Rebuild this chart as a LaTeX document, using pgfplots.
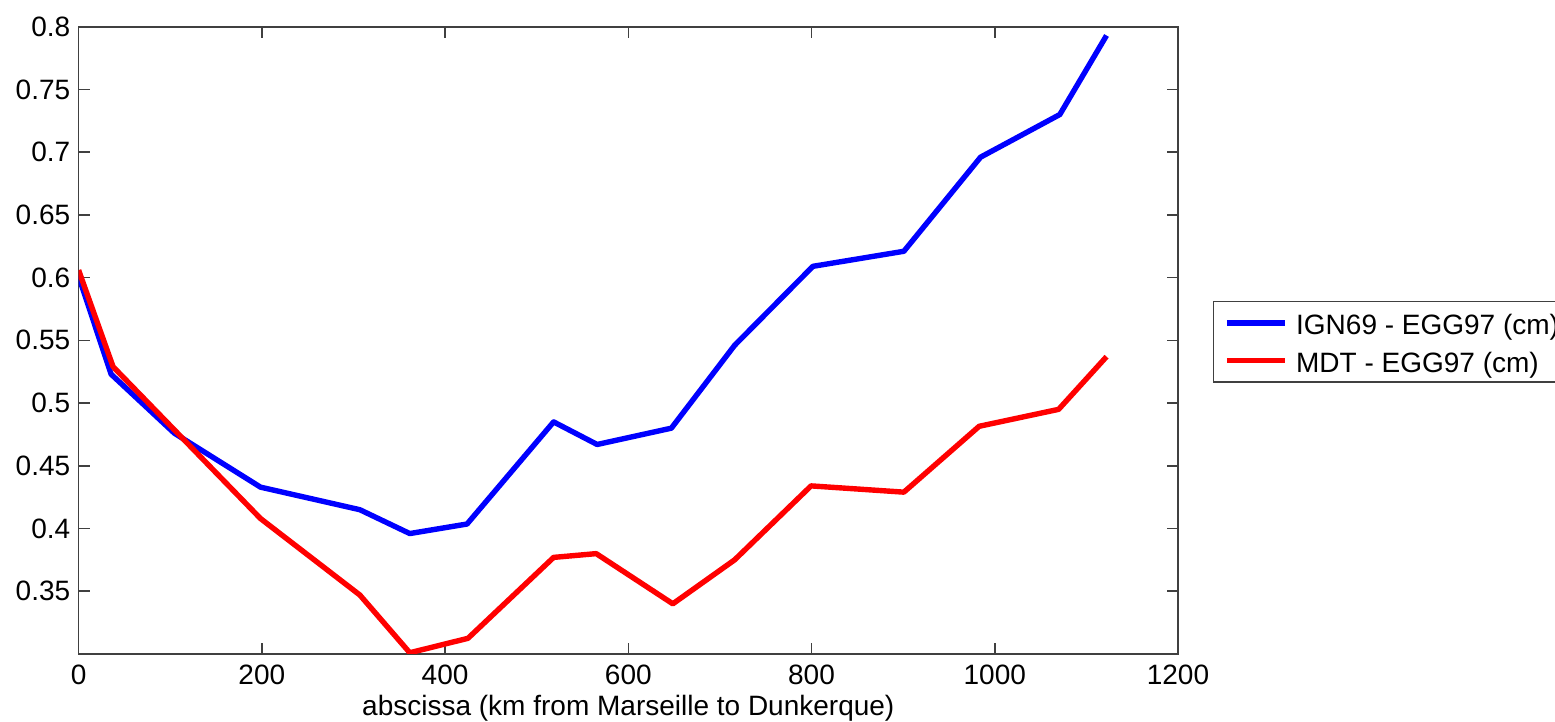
\documentclass[border=0pt]{standalone}
\usepackage{fontspec}
\setmainfont{Liberation Sans}
\usepackage{pgfplots}
\pgfplotsset{compat=1.18}
\begin{document}
\fontsize{14pt}{16pt}\selectfont
\begin{tikzpicture}
\begin{axis}[
  scale only axis, width=549.7pt, height=313.65pt,
  xmin=0, xmax=1200, ymin=0.3, ymax=0.8,
  xtick={0,200,400,600,800,1000,1200},
  xticklabels={0,200,400,600,800,1000,1200},
  ytick={0.35,0.4,0.45,0.5,0.55,0.6,0.65,0.7,0.75,0.8},
  yticklabels={0.35,0.4,0.45,0.5,0.55,0.6,0.65,0.7,0.75,0.8},
  tick align=inside, xtick pos=both, ytick pos=both,
  major tick length=5.7pt,
  axis line style={black!75, line width=0.8pt},
  every tick/.style={black!75, line width=0.8pt},
  ticklabel style={font=\fontsize{14pt}{16pt}\selectfont, inner sep=0pt},
  xticklabel shift=5.5pt, yticklabel shift=4pt,
  xlabel={abscissa (km from Marseille to Dunkerque)},
  xlabel style={at={(axis description cs:0.5,0)}, anchor=base, yshift=-31pt, inner sep=0pt, font=\fontsize{14pt}{16pt}\selectfont},
  legend style={at={(axis description cs:1.0316,0.5632)}, anchor=north west,
    draw=black!75, line width=0.8pt, fill=white,
    inner xsep=5.3pt, inner ysep=4.85pt, row sep=7.25pt, column sep=4pt,
    cells={anchor=west},
    nodes={inner sep=0pt, text height=11.6pt, text depth=0pt, font=\fontsize{14pt}{16pt}\selectfont}},
  legend image code/.code={\draw[#1] (0pt,0pt) -- (29.3pt,0pt);},
]
\addplot[color={rgb,255:red,0;green,0;blue,255}, line width=2.7pt, line join=round] coordinates {
(0,0.601) (35.5,0.523) (104.5,0.476) (198.5,0.433) (307,0.415) (361.5,0.396)
(424,0.4036) (518.5,0.485) (566,0.467) (647,0.480) (716,0.546) (801.5,0.609)
(900.8,0.621) (984.5,0.696) (1071,0.730) (1122,0.793)};
\addlegendentry{IGN69 - EGG97 (cm)}
\addplot[color={rgb,255:red,255;green,0;blue,0}, line width=2.7pt, line join=round] coordinates {
(0,0.606) (37.6,0.529) (198.5,0.408) (307,0.347) (361.5,0.301) (425,0.3125)
(518.5,0.377) (565,0.380) (648.6,0.340) (716,0.375) (799.5,0.434) (900.8,0.429)
(983,0.4815) (1069.7,0.495) (1122,0.537)};
\addlegendentry{MDT - EGG97 (cm)}
\end{axis}
\pgfresetboundingbox
\useasboundingbox (-39.3pt,-34pt) rectangle (738.2pt,327pt);
\end{tikzpicture}
\end{document}
